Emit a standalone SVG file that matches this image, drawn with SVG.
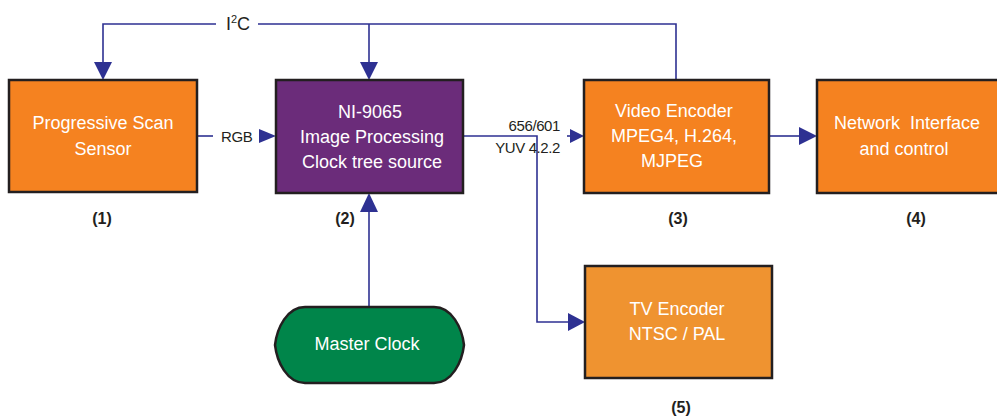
<svg xmlns="http://www.w3.org/2000/svg" width="997" height="419" viewBox="0 0 997 419">
<defs>
<style>
.box{stroke:#231F20;stroke-width:2.5}
.t{font-family:"Liberation Sans",Arial,sans-serif;font-size:18px;fill:#fff;text-anchor:middle}
.s{font-family:"Liberation Sans",Arial,sans-serif;font-size:15px;fill:#231F20;letter-spacing:-0.4px}
.i2c{font-family:"Liberation Sans",Arial,sans-serif;font-size:18px;fill:#231F20;text-anchor:middle}
.n{font-family:"Liberation Sans",Arial,sans-serif;font-size:16px;font-weight:bold;fill:#231F20;text-anchor:middle}
.c{fill:none;stroke:#2E3192;stroke-width:1.6}
.a{fill:#2E3192}
</style>
</defs>
<rect width="997" height="419" fill="#fff"/>
<g id="connectors">
<path class="c" d="M216,24 H103 V64"/>
<path class="c" d="M258,24 H676 V80"/>
<path class="c" d="M369,24 V64"/>
<path class="a" d="M94,62 H112 L103,80 Z"/>
<path class="a" d="M360,62 H378 L369,80 Z"/>
<text class="i2c" x="238" y="30">I<tspan dy="-7" style="font-size:11px">2</tspan><tspan dy="7">C</tspan></text>
<path class="c" d="M197,136 H213"/>
<text class="s" x="221" y="142">RGB</text>
<path class="a" d="M259,129 L276,136 L259,143 Z"/>
<path class="c" d="M463,136 H537 V322 H570"/>
<path class="a" d="M568,313 L585,322 L568,331 Z"/>
<path class="c" d="M567,136 H570"/>
<path class="a" d="M570,129 L584,136 L570,143 Z"/>
<text class="s" x="560" y="131" text-anchor="end">656/601</text>
<text class="s" x="560" y="153" text-anchor="end">YUV 4.2.2</text>
<path class="c" d="M769,136 H801"/>
<path class="a" d="M799,127 L817,136 L799,145 Z"/>
<path class="c" d="M369,307 V210"/>
<path class="a" d="M360,212 L369,193 L378,212 Z"/>
</g>
<g id="sensor">
<rect class="box" x="9" y="80" width="188" height="112" fill="#F58220"/>
<text class="t" x="103" y="129">Progressive Scan</text>
<text class="t" x="103" y="155">Sensor</text>
<text class="n" x="102" y="224">(1)</text>
</g>
<g id="ni9065">
<rect class="box" x="276" y="80" width="187" height="113" fill="#6B2C7A"/>
<text class="t" x="370" y="118">NI-9065</text>
<text class="t" x="372" y="143">Image Processing</text>
<text class="t" x="372" y="168">Clock tree source</text>
<text class="n" x="345" y="224">(2)</text>
</g>
<g id="video-encoder">
<rect class="box" x="584" y="80" width="185" height="113" fill="#F58220"/>
<text class="t" x="674" y="117">Video Encoder</text>
<text class="t" x="674" y="142">MPEG4, H.264,</text>
<text class="t" x="672" y="167">MJPEG</text>
<text class="n" x="678" y="224">(3)</text>
</g>
<g id="network">
<rect class="box" x="817" y="80" width="185" height="113" fill="#F58220"/>
<text class="t" x="907" y="129" xml:space="preserve">Network  Interface</text>
<text class="t" x="904" y="155">and control</text>
<text class="n" x="916" y="224">(4)</text>
</g>
<g id="tv-encoder">
<rect class="box" x="585" y="266" width="187" height="112" fill="#EF9330"/>
<text class="t" x="677" y="315">TV Encoder</text>
<text class="t" x="677" y="340">NTSC / PAL</text>
<text class="n" x="681" y="413">(5)</text>
</g>
<g id="master-clock">
<path class="box" fill="#00854A" d="M305,307 H434 C452,307 462,328 464,345 C462,362 452,383 434,383 H305 C287,383 277,362 275,345 C277,328 287,307 305,307 Z"/>
<text class="t" x="367" y="350">Master Clock</text>
</g>
</svg>
